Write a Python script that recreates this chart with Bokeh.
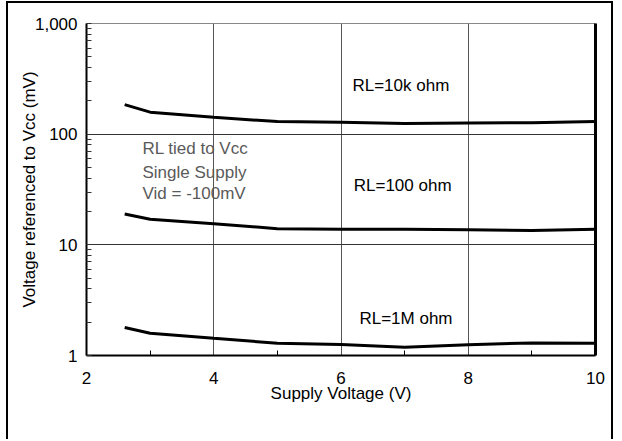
from bokeh.plotting import figure
from bokeh.models import FixedTicker, LogAxis, Range1d
from bokeh.core.properties import value
from bokeh.embed import file_html
from bokeh.resources import INLINE

# Supply voltage (V) sample points
supply_v = [2.6, 3, 4, 5, 6, 7, 8, 9, 10]

# Output voltage referenced to Vcc (mV) for each load
rl_10k = [185, 158, 142, 130, 128, 125, 126, 127, 130]
rl_100 = [19, 17, 15.5, 14, 13.8, 13.8, 13.7, 13.5, 13.8]
rl_1m = [1.79, 1.59, 1.43, 1.29, 1.26, 1.19, 1.25, 1.30, 1.29]

x_ticks = [2, 4, 6, 8, 10]
x_minor = [3, 5, 7, 9]
y_ticks = [1, 10, 100, 1000]
y_tick_labels = ["1", "10", "100", "1,000"]
y_minor = [m * d for d in (1, 10, 100) for m in range(2, 10)]

# Curve labels and test-condition note (position in data units)
curve_labels = ["RL=10k ohm", "RL=100 ohm", "RL=1M ohm"]
curve_label_x = [6.18, 6.2, 6.29]
curve_label_y = [275, 34.4, 2.16]
note_lines = ["RL tied to Vcc", "Single Supply", "Vid = -100mV"]
note_x = [2.88, 2.88, 2.88]
note_y = [74, 45, 29.1]

FONT = "Liberation Sans"
FS = "17px"

p = figure(width=607, height=438, y_axis_type="log",
           x_range=Range1d(2, 10), y_range=Range1d(1, 1000),
           output_backend="svg", toolbar_location=None,
           min_border_left=78, min_border_right=20,
           min_border_top=20, min_border_bottom=86,
           background_fill_color="white", border_fill_color="white")

# page frame drawn round the whole figure
p.styles = {"border-left": "2px solid black", "border-top": "2px solid black",
            "border-right": "2px solid black", "margin-left": "6px",
            "margin-top": "1px"}

p.outline_line_color = "#888888"
p.outline_line_width = 1

# grid
p.xgrid.ticker = FixedTicker(ticks=[4, 6, 8])
p.ygrid.ticker = FixedTicker(ticks=[10, 100])
p.xgrid.grid_line_color = "#555555"
p.ygrid.grid_line_color = "#333333"

# x axis
xa = p.xaxis[0]
xa.ticker = FixedTicker(ticks=x_ticks, minor_ticks=x_minor)
xa.axis_label = "Supply Voltage (V)"
xa.axis_label_text_font = FONT
xa.axis_label_text_font_size = FS
xa.axis_label_text_font_style = "normal"
xa.axis_label_text_color = "black"
xa.axis_label_standoff = -3
xa.major_label_text_font = FONT
xa.major_label_text_font_size = FS
xa.major_label_text_color = "black"
xa.major_label_standoff = 16
xa.major_tick_in = 0
xa.major_tick_out = 0
xa.minor_tick_in = 5
xa.minor_tick_out = 0
xa.minor_tick_line_color = "black"
xa.axis_line_color = "black"
xa.axis_line_width = 2

# y axis
ya = p.yaxis[0]
ya.ticker = FixedTicker(ticks=y_ticks, minor_ticks=y_minor)
ya.major_label_overrides = {t: s for t, s in zip(y_ticks, y_tick_labels)}
ya.axis_label = "Voltage referenced to Vcc (mV)"
ya.axis_label_text_font = FONT
ya.axis_label_text_font_size = FS
ya.axis_label_text_font_style = "normal"
ya.axis_label_text_color = "black"
ya.axis_label_standoff = -7
ya.major_label_text_font = FONT
ya.major_label_text_font_size = FS
ya.major_label_text_color = "black"
ya.major_label_standoff = 9
ya.major_tick_in = 5
ya.major_tick_out = 0
ya.minor_tick_in = 5
ya.minor_tick_out = 0
ya.minor_tick_line_color = "#333333"
ya.major_tick_line_color = "#333333"
ya.axis_line_color = "black"
ya.axis_line_width = 2

# heavy right edge of the plotting area
right_edge = LogAxis(ticker=FixedTicker(ticks=[]), major_tick_line_color=None,
                     minor_tick_line_color=None, major_label_text_font_size="0px",
                     axis_line_color="black", axis_line_width=3)
p.add_layout(right_edge, "right")

# curves
for ys in (rl_10k, rl_100, rl_1m):
    p.line(supply_v, ys, line_color="black", line_width=3)

p.text(x=curve_label_x, y=curve_label_y, text=curve_labels,
       text_font=value(FONT), text_font_size=FS, text_color="black",
       text_align="left", text_baseline="middle")
p.text(x=note_x, y=note_y, text=note_lines,
       text_font=value(FONT), text_font_size=FS, text_color="#5a5a5a",
       text_align="left", text_baseline="middle")

open("out.html", "w").write(file_html(p, INLINE))
